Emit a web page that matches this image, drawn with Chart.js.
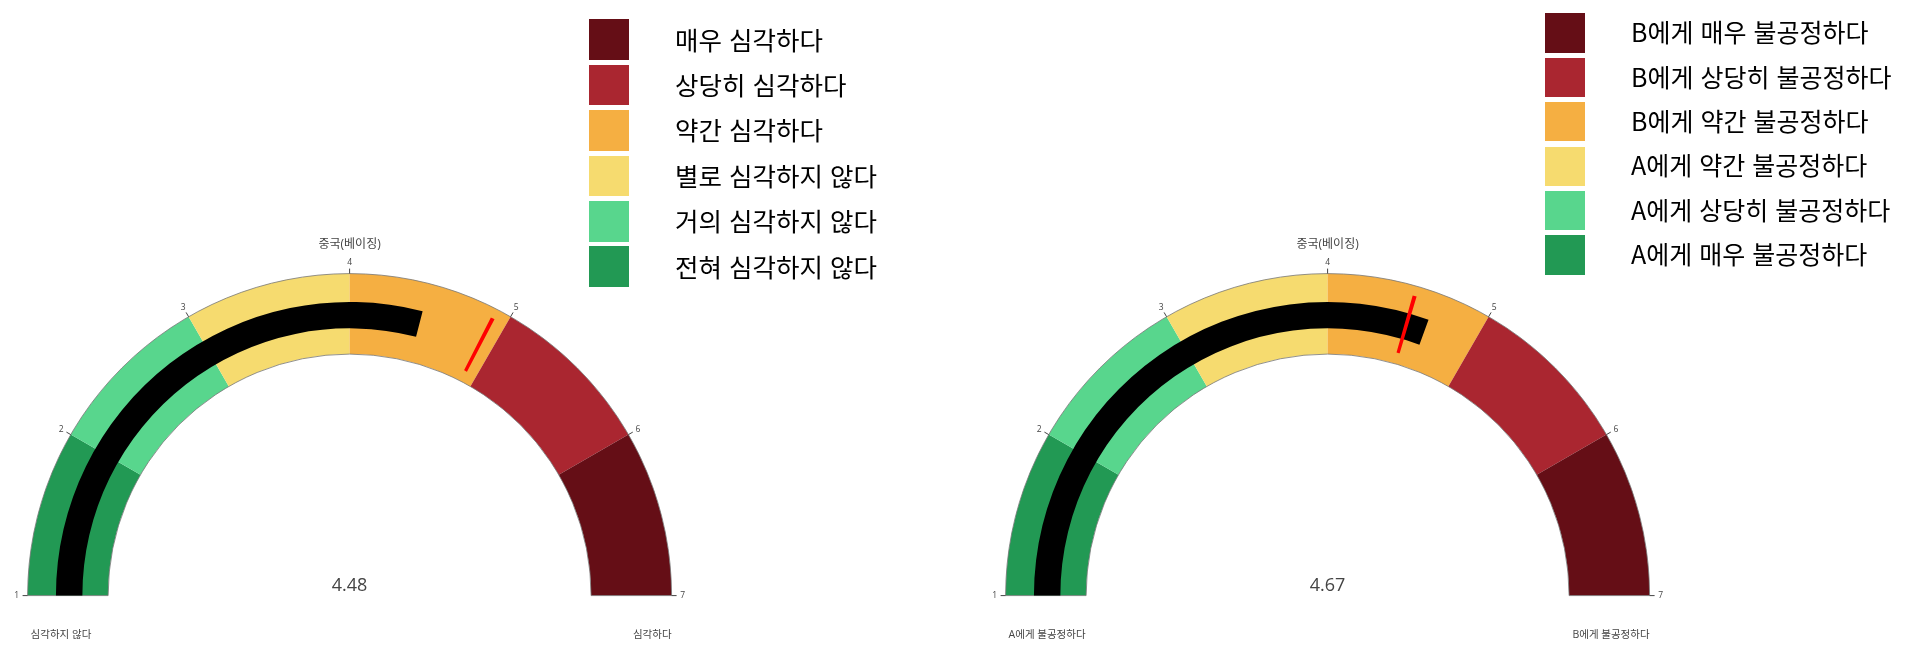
<!DOCTYPE html>
<html lang="ko">
<head>
<meta charset="utf-8">
<title>gauge</title>
<script src="https://cdn.jsdelivr.net/npm/chart.js@4.4.1/dist/chart.umd.min.js"></script>
<style>
  html, body { margin: 0; padding: 0; background: #fff; }
  body { position: relative; width: 1910px; height: 655px; overflow: hidden; font-family: "Noto Sans CJK KR", "Noto Sans", sans-serif; }
  .gauge { position: absolute; top: 0; width: 700px; height: 655px; }
  .gauge canvas { position: absolute; left: 0; top: 0; }
  .legend { position: absolute; top: 0; }
  .legend .box { position: absolute; width: 40px; }
  .legend .txt { position: absolute; white-space: nowrap; color: #000; line-height: 1; }
</style>
</head>
<body>
<div class="gauge" id="g0"></div>
<div class="gauge" id="g1"></div>
<div class="legend" id="l0"></div>
<div class="legend" id="l1"></div>

<script>
// data
const scaleTicks = [1, 2, 3, 4, 5, 6, 7];
const stepColors = ['#229954', '#58d68d', '#f6db6f', '#f5af42', '#aa2630', '#650e16'];
const gaugeTitle = '중국(베이징)';
const gaugeValues = [4.48, 4.67];
const thresholdValues = [4.91, 4.54];
const lowLabels = ['심각하지 않다', 'A에게 불공정하다'];
const highLabels = ['심각하다', 'B에게 불공정하다'];
const legendSerious = ['매우 심각하다', '상당히 심각하다', '약간 심각하다', '별로 심각하지 않다', '거의 심각하지 않다', '전혀 심각하지 않다'];
const legendFair = ['B에게 매우 불공정하다', 'B에게 상당히 불공정하다', 'B에게 약간 불공정하다', 'A에게 약간 불공정하다', 'A에게 상당히 불공정하다', 'A에게 매우 불공정하다'];

const minV = scaleTicks[0];
const maxV = scaleTicks[scaleTicks.length - 1];
const stepSizes = scaleTicks.slice(1).map((t, i) => t - scaleTicks[i]);
const textFont = '"Open Sans", "Noto Sans CJK KR", sans-serif';
const fullR = 322; // outer radius of the colour band in px

function label(ctx, text, x, y, size, align) {
  ctx.font = size + 'px ' + textFont;
  ctx.textAlign = align;
  ctx.textBaseline = 'middle';
  ctx.fillStyle = '#444';
  ctx.fillText(text, x, y);
}

// outline, ticks and texts around the colour band
const gaugeDecor = {
  id: 'gaugeDecor',
  afterDatasetsDraw(chart, args, opts) {
    if (!opts.labels) return;
    const ctx = chart.ctx;
    const arc = chart.getDatasetMeta(0).data[0];
    ctx.save();
    ctx.beginPath();
    ctx.arc(arc.x, arc.y, arc.outerRadius, Math.PI, 2 * Math.PI);
    ctx.arc(arc.x, arc.y, arc.innerRadius, 2 * Math.PI, Math.PI, true);
    ctx.closePath();
    ctx.lineWidth = 0.8;
    ctx.strokeStyle = '#777';
    ctx.stroke();
    ctx.restore();
  },
  afterDraw(chart, args, opts) {
    if (!opts.labels) return;
    const ctx = chart.ctx;
    const arcs = chart.getDatasetMeta(0).data;
    const a0 = arcs[0].startAngle;
    const a1 = arcs[arcs.length - 1].endAngle;
    const cx = arcs[0].x, cy = arcs[0].y, R = arcs[0].outerRadius;
    ctx.save();
    ctx.strokeStyle = '#444';
    ctx.lineWidth = 1;
    scaleTicks.forEach(t => {
      const a = a0 + (t - minV) / (maxV - minV) * (a1 - a0);
      const c = Math.cos(a), s = Math.sin(a);
      ctx.beginPath();
      ctx.moveTo(cx + R * c, cy + R * s);
      ctx.lineTo(cx + (R + 5) * c, cy + (R + 5) * s);
      ctx.stroke();
      label(ctx, String(t), cx + (R + 11) * c, cy + (R + 11) * s, 8.5, 'center');
    });
    label(ctx, gaugeTitle, cx, cy - R - 29, 12, 'center');
    label(ctx, opts.value.toFixed(2), cx, cy - 10, 18, 'center');
    label(ctx, opts.low, cx - R + 3, cy + 39, 10.5, 'left');
    label(ctx, opts.high, cx + R, cy + 39, 10.5, 'right');
    ctx.restore();
  }
};

function makeCanvas(holder) {
  const cv = document.createElement('canvas');
  cv.width = 700;
  cv.height = 655;
  holder.appendChild(cv);
  return cv;
}

// radiusFrac < 1 lifts the half-doughnut centre, so the area is moved down to keep one centre
function doughnut(cv, data, colors, radiusFrac, cutout, decorOpts) {
  const shift = (1 - radiusFrac) * fullR / 2;
  return new Chart(cv, {
    type: 'doughnut',
    data: {
      datasets: [{
        data: data,
        backgroundColor: colors,
        borderWidth: 0,
        clip: false
      }]
    },
    options: {
      responsive: false,
      animation: false,
      events: [],
      rotation: -90,
      circumference: 180,
      radius: (radiusFrac * 100) + '%',
      cutout: cutout,
      layout: { padding: { left: 27.6, right: 28.4, top: 273.6 + shift, bottom: 59.4 - shift } },
      plugins: {
        legend: { display: false },
        tooltip: { enabled: false },
        gaugeDecor: decorOpts
      }
    },
    plugins: [gaugeDecor]
  });
}

const gaugeLefts = [0, 978];
gaugeValues.forEach((v, i) => {
  const holder = document.getElementById('g' + i);
  holder.style.left = gaugeLefts[i] + 'px';

  // colour steps
  doughnut(makeCanvas(holder), stepSizes, stepColors, 1, '75%',
    { labels: true, value: v, low: lowLabels[i], high: highLabels[i] });

  // value bar
  doughnut(makeCanvas(holder), [v - minV, maxV - v], ['#000', 'rgba(0,0,0,0)'], 0.912, '91%', {});

  // threshold line
  const w = 0.025;
  const thr = thresholdValues[i];
  doughnut(makeCanvas(holder), [thr - minV - w / 2, w, maxV - thr - w / 2],
    ['rgba(0,0,0,0)', '#ff0000', 'rgba(0,0,0,0)'], 0.969, '81%', {});
});

// legends
function buildLegend(id, left, top, pitch, size, textLeft, fontSize, labels) {
  const el = document.getElementById(id);
  el.style.left = left + 'px';
  const colors = stepColors.slice().reverse();
  labels.forEach((lab, i) => {
    const box = document.createElement('div');
    box.className = 'box';
    box.style.top = (top + i * pitch) + 'px';
    box.style.height = size + 'px';
    box.style.background = colors[i];
    el.appendChild(box);
    const txt = document.createElement('div');
    txt.className = 'txt';
    txt.textContent = lab;
    txt.style.fontSize = fontSize + 'px';
    txt.style.left = textLeft + 'px';
    txt.style.top = (top + i * pitch + size / 2 - fontSize * 0.55) + 'px';
    el.appendChild(txt);
  });
}
buildLegend('l0', 589, 19.3, 45.4, 40.7, 86, 25.5, legendSerious);
buildLegend('l1', 1545, 13.3, 44.4, 39.4, 86, 25, legendFair);
</script>
</body>
</html>
